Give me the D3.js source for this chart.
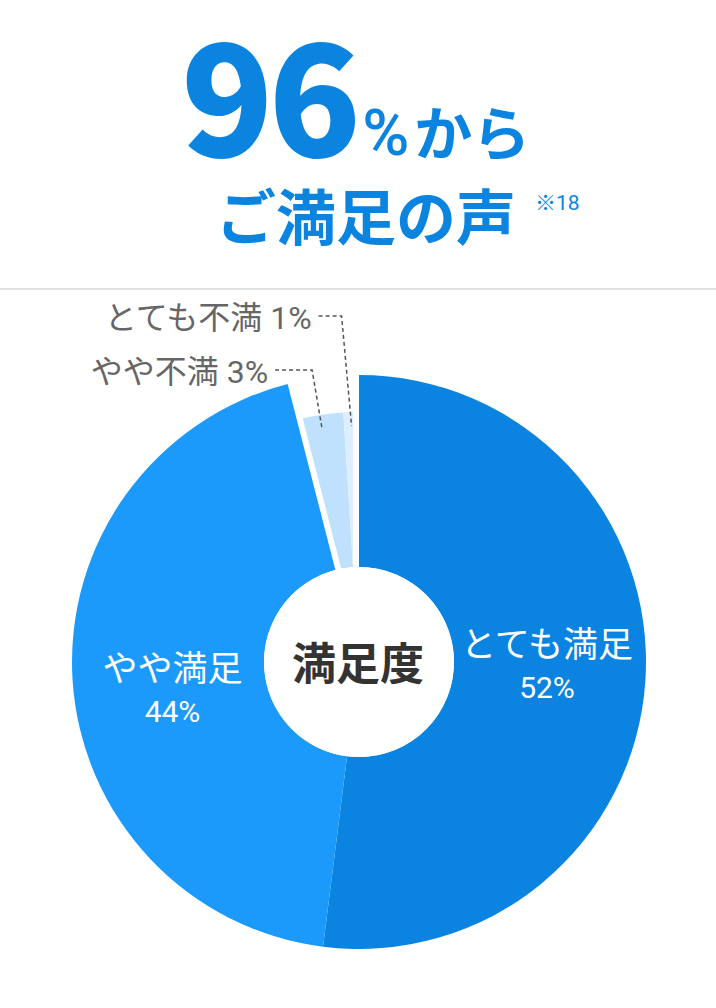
<!DOCTYPE html>
<html>
<head>
<meta charset="utf-8">
<script src="https://cdn.jsdelivr.net/npm/d3@7"></script>
<style>
  html, body { margin: 0; padding: 0; background: #fff; }
  svg { display: block; }
</style>
</head>
<body>
<script>
// satisfaction breakdown, clockwise from 12 o'clock
const categories = ["とても満足", "やや満足", "やや不満", "とても不満"]
const values = [52, 44, 3, 1]
const groups = ["満足", "満足", "不満", "不満"]
const colors = ["#0b84e1", "#1b9afc", "#bfe1fd", "#ddeffe"]

const headline = "96"
const headlinePct = "%"
const headlineTail = "から"
const subline = "ご満足の声"
const footnote = "※18"
const centerLabel = "満足度"

const W = 716, H = 1008
const cx = 359, cy = 662
const innerR = 95
const outerR = { "満足": 287, "不満": 250 }
const blue = "#0b84e0"
const jp = "'Noto Sans CJK JP', sans-serif"
const rb = "Roboto, 'Noto Sans CJK JP', sans-serif"

const data = categories.map((c, i) => ({ name: c, value: values[i], group: groups[i], color: colors[i] }))

const svg = d3.select("body").append("svg").attr("width", W).attr("height", H)
svg.append("rect").attr("width", W).attr("height", H).attr("fill", "#fff")

// header
const head = svg.append("text")
	.attr("x", 181)
	.attr("y", 157)
	.attr("fill", blue)
	.attr("font-family", jp)
head.append("tspan").attr("font-size", 152).attr("font-weight", 900).attr("letter-spacing", -5).text(headline)
head.append("tspan").attr("font-size", 64).attr("font-weight", 500).attr("font-family", rb).attr("dx", 6).attr("dy", -2).text(headlinePct)
head.append("tspan").attr("font-size", 58).attr("font-weight", 700).attr("dx", 5).text(headlineTail)

svg.append("text")
	.attr("x", 366)
	.attr("y", 240)
	.attr("text-anchor", "middle")
	.attr("fill", blue)
	.attr("font-family", jp)
	.attr("font-weight", 700)
	.attr("font-size", 60)
	.text(subline)

svg.append("text")
	.attr("x", 535)
	.attr("y", 210)
	.attr("fill", blue)
	.attr("font-family", rb)
	.attr("font-size", 21)
	.text(footnote)

svg.append("line")
	.attr("x1", 0).attr("x2", W)
	.attr("y1", 289).attr("y2", 289)
	.attr("stroke", "#e2e2e2")
	.attr("stroke-width", 2)

// pie
const pie = d3.pie().sort(null).value(d => d.value)
const arcs = pie(data)
const arc = d3.arc().innerRadius(innerR).outerRadius(d => outerR[d.data.group])

const g = svg.append("g").attr("transform", `translate(${cx},${cy})`)

// the small "dissatisfied" slices sit inside a clip that leaves a white gap on both sides
const small = arcs.filter(d => d.data.group === "不満")
const clipArc = d3.arc().innerRadius(innerR).outerRadius(outerR["満足"] + 10).padRadius(100).padAngle(0.12)
g.append("clipPath").attr("id", "small-clip")
	.append("path")
	.attr("d", clipArc({ startAngle: d3.min(small, d => d.startAngle), endAngle: d3.max(small, d => d.endAngle) }))

g.selectAll("path.slice")
	.data(arcs)
	.join("path")
	.attr("class", "slice")
	.attr("d", arc)
	.attr("fill", d => d.data.color)
	.attr("clip-path", d => (d.data.group === "不満" ? "url(#small-clip)" : null))

g.append("circle").attr("r", innerR).attr("fill", "#fff")

g.append("text")
	.attr("x", -1)
	.attr("y", 18)
	.attr("text-anchor", "middle")
	.attr("font-family", jp)
	.attr("font-weight", 700)
	.attr("font-size", 44)
	.attr("fill", "#333")
	.text(centerLabel)

// labels inside the big slices, placed a little before each slice's mid angle
const labelArc = d3.arc().innerRadius(188).outerRadius(188)
const labelTurn = -0.063
const big = arcs.filter(d => d.data.group === "満足")
big.forEach(d => {
	const [x, y] = labelArc.centroid({ startAngle: d.startAngle + labelTurn, endAngle: d.endAngle + labelTurn })
	g.append("text")
		.attr("x", x).attr("y", y - 5)
		.attr("text-anchor", "middle")
		.attr("font-family", rb)
		.attr("font-size", 35)
		.attr("fill", "#fff")
		.text(d.data.name)
	g.append("text")
		.attr("x", x).attr("y", y + 36)
		.attr("text-anchor", "middle")
		.attr("font-family", rb)
		.attr("font-size", 30)
		.attr("fill", "#fff")
		.text(d.data.value + "%")
})

// leader lines for the small slices
const pointArc = d3.arc().innerRadius(236).outerRadius(236)
const rows = [{ y: 370 - cy, run: 37 }, { y: 316 - cy, run: 23 }]
small.forEach((d, i) => {
	const [px, py] = pointArc.centroid(d)
	const row = rows[i]
	const ex = px - 10
	const sx = ex - row.run
	g.append("path")
		.attr("d", d3.line()([[sx, row.y], [ex, row.y], [px, py]]))
		.attr("fill", "none")
		.attr("stroke", "#555")
		.attr("stroke-width", 1.5)
		.attr("stroke-dasharray", "4,3")
	g.append("text")
		.attr("x", sx - 7)
		.attr("y", row.y + 13)
		.attr("text-anchor", "end")
		.attr("font-family", rb)
		.attr("font-size", 32)
		.attr("fill", "#666")
		.text(`${d.data.name} ${d.data.value}%`)
})
</script>
</body>
</html>
